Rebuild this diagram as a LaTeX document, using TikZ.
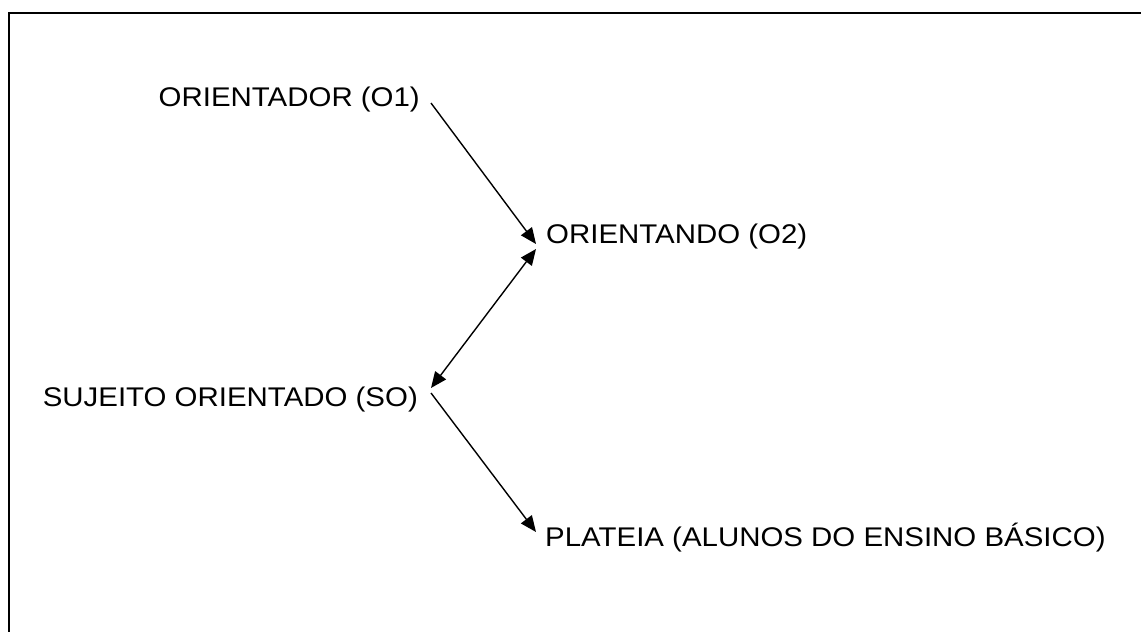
\documentclass[tikz,border=0pt]{standalone}
\usepackage{fontspec}
\setmainfont{Liberation Sans}
\usetikzlibrary{arrows.meta}
\begin{document}
\begin{tikzpicture}[x=1pt,y=-1pt,
  lbl/.style={inner sep=0pt, font=\fontsize{27}{31}\selectfont},
  tipa/.tip={Triangle[length=16pt,width=13.5pt]},
  arr/.style={line width=1.4pt, -tipa},
  darr/.style={line width=1.4pt, tipa-tipa},
  frame/.style={line width=2pt}]
\useasboundingbox (0,0) rectangle (1141,632);
\draw[frame] (9.2,633) -- (9.2,13.3) -- (1142,13.3);
\node[lbl, anchor=base east] (o1) at (420,106.7) {\scalebox{1.09}[1]{ORIENTADOR (O1)}};
\node[lbl, anchor=base west] (o2) at (546,243) {\scalebox{1.09}[1]{ORIENTANDO (O2)}};
\node[lbl, anchor=base east] (so) at (418,406) {\scalebox{1.09}[1]{SUJEITO ORIENTADO (SO)}};
\node[lbl, anchor=base west] (pl) at (545,546) {\scalebox{1.09}[1]{PLATEIA (ALUNOS DO ENSINO BÁSICO)}};
\draw[arr] ([xshift=11pt,yshift=3.7pt]o1.base east) -- ([xshift=-10pt,yshift=-1pt]o2.base west);
\draw[darr] ([xshift=13pt,yshift=18pt]so.base east) -- ([xshift=-10pt,yshift=-6pt]o2.base west);
\draw[arr] ([xshift=13pt,yshift=13pt]so.base east) -- ([xshift=-9pt,yshift=14pt]pl.base west);
\end{tikzpicture}
\end{document}
